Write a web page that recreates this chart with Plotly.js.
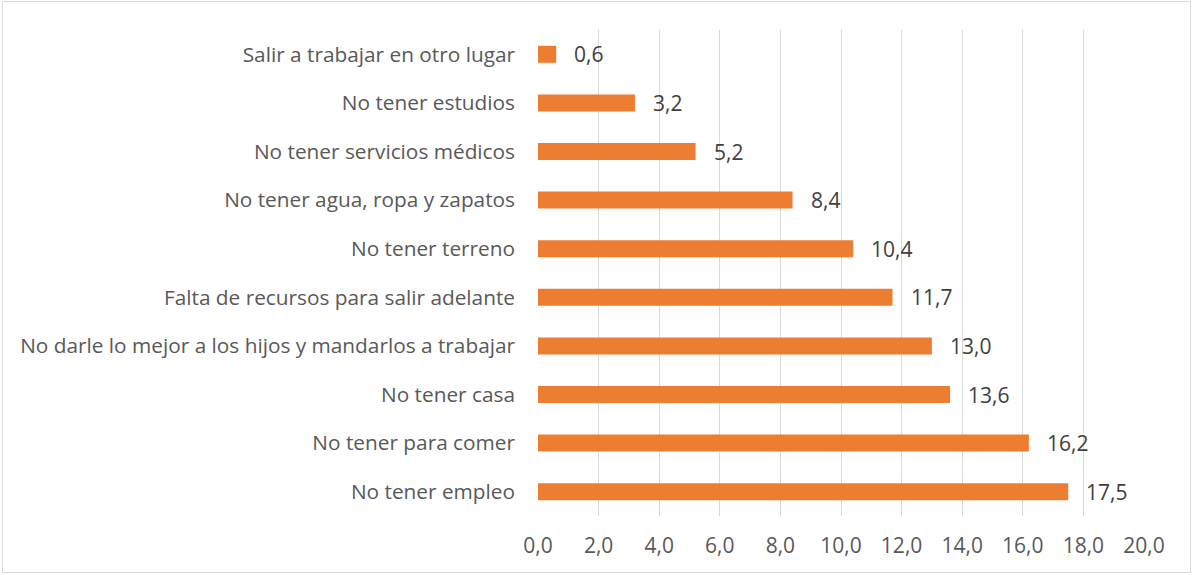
<!DOCTYPE html>
<html>
<head>
<meta charset="utf-8">
<script src="https://cdn.plot.ly/plotly-3.0.1.min.js"></script>
<style>
html,body{margin:0;padding:0;background:#fff;}
#wrap{position:relative;width:1193px;height:575px;}
#chart{position:absolute;left:0;top:0;width:1193px;height:575px;}
#frame{position:absolute;left:2px;top:1px;width:1187px;height:570px;border:1px solid #d9d9d9;pointer-events:none;}
</style>
</head>
<body>
<div id="wrap"><div id="chart"></div><div id="frame"></div></div>
<script>
const categories = [
  "Salir a trabajar en otro lugar",
  "No tener estudios",
  "No tener servicios médicos",
  "No tener agua, ropa y zapatos",
  "No tener terreno",
  "Falta de recursos para salir adelante",
  "No darle lo mejor a los hijos y mandarlos a trabajar",
  "No tener casa",
  "No tener para comer",
  "No tener empleo"
];
const values = [0.6, 3.2, 5.2, 8.4, 10.4, 11.7, 13.0, 13.6, 16.2, 17.5];
const tickValues = [0, 2, 4, 6, 8, 10, 12, 14, 16, 18, 20];

const font = "'Open Sans', 'Segoe UI', sans-serif";
const grey = "#595959";

const labelAnnotations = values.map((v, i) => ({
  x: v,
  y: categories[i],
  xref: "x",
  yref: "y",
  text: v.toFixed(1).replace(".", ","),
  showarrow: false,
  xanchor: "left",
  yanchor: "middle",
  xshift: 16,
  font: {family: font, size: 21, color: "#404040"}
}));

Plotly.newPlot("chart", [{
  type: "bar",
  orientation: "h",
  x: values,
  y: categories,
  marker: {color: "#ED7D31"},
  hoverinfo: "none"
}], {
  width: 1193,
  height: 575,
  margin: {l: 538, r: 49, t: 30, b: 59},
  paper_bgcolor: "#fff",
  plot_bgcolor: "#fff",
  separators: ", ",
  bargap: 0.65,
  showlegend: false,
  font: {family: font, size: 20.8, color: grey},
  annotations: labelAnnotations,
  xaxis: {
    range: [0, 20],
    tickvals: tickValues,
    tickformat: ".1f",
    showgrid: true,
    gridcolor: "#d9d9d9",
    gridwidth: 1,
    zeroline: false,
    showline: false,
    ticks: "",
    ticklabelstandoff: 15,
    tickfont: {family: font, size: 21, color: grey},
    fixedrange: true
  },
  yaxis: {
    autorange: "reversed",
    showgrid: false,
    zeroline: false,
    showline: false,
    ticks: "",
    ticklabelstandoff: 22,
    tickfont: {family: font, size: 20.8, color: grey},
    fixedrange: true
  }
}, {displayModeBar: false, staticPlot: true});
</script>
</body>
</html>
